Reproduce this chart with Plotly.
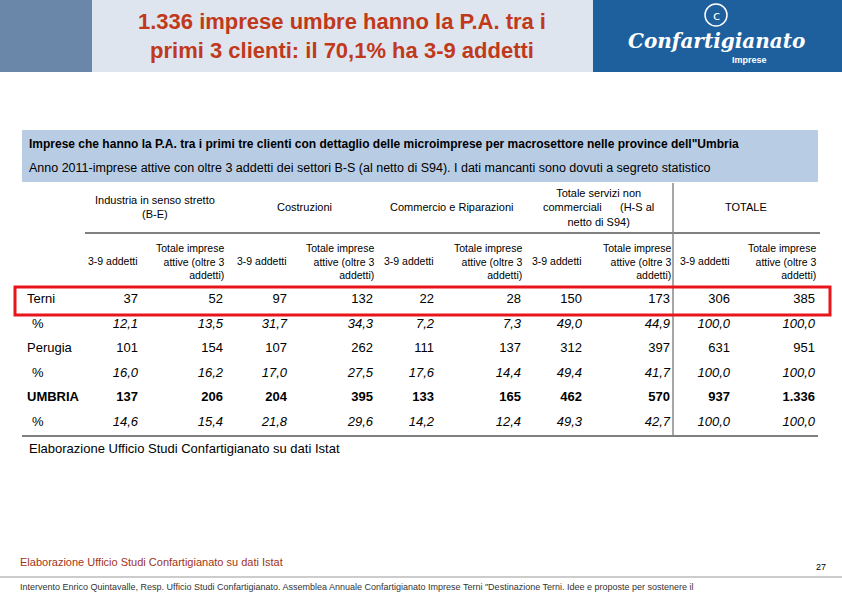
import plotly.graph_objects as go

# dati della tabella
righe = ["Terni", "%", "Perugia", "%", "UMBRIA", "%"]
valori = [
    ["37", "52", "97", "132", "22", "28", "150", "173", "306", "385"],
    ["12,1", "13,5", "31,7", "34,3", "7,2", "7,3", "49,0", "44,9", "100,0", "100,0"],
    ["101", "154", "107", "262", "111", "137", "312", "397", "631", "951"],
    ["16,0", "16,2", "17,0", "27,5", "17,6", "14,4", "49,4", "41,7", "100,0", "100,0"],
    ["137", "206", "204", "395", "133", "165", "462", "570", "937", "1.336"],
    ["14,6", "15,4", "21,8", "29,6", "14,2", "12,4", "49,3", "42,7", "100,0", "100,0"],
]
settori = ["Industria in senso stretto<br>(B-E)", "Costruzioni", "Commercio e Riparazioni",
           "Totale servizi non<br>commerciali      (H-S al<br>netto di S94)", "TOTALE"]
sottotitoli = ["3-9 addetti", "Totale imprese<br>attive (oltre 3<br>addetti)"]

col_x = [138, 223, 287, 373, 434, 521, 582, 670, 730, 815]
riga_y = [300, 325, 349, 374, 398, 423]
FONT = "Liberation Sans Narrow, Arial Narrow, Liberation Sans"

fig = go.Figure()
xs, ys, txt = [], [], []
for i, r in enumerate(valori):
    for j, v in enumerate(r):
        xs.append(col_x[j]); ys.append(riga_y[i])
        if i % 2 == 1:
            txt.append("<i>" + v + "</i>")
        elif i == 4:
            txt.append("<b>" + v + "</b>")
        else:
            txt.append(v)
fig.add_trace(go.Scatter(x=xs, y=ys, text=txt, mode="text", textposition="middle left",
                         textfont=dict(family=FONT, size=13, color="black"), hoverinfo="skip"))
lab = [("<b>" + r + "</b>") if r == "UMBRIA" else r for r in righe]
fig.add_trace(go.Scatter(x=[27, 32, 27, 32, 27, 32], y=riga_y, text=lab, mode="text",
                         textposition="middle right",
                         textfont=dict(family=FONT, size=13, color="black"), hoverinfo="skip"))

ann = []
shapes = [
    dict(type="rect", x0=0, x1=92, y0=0, y1=72, fillcolor="#6a87aa", line_width=0, layer="below"),
    dict(type="rect", x0=92, x1=593, y0=0, y1=72, fillcolor="#dfe5ee", line_width=0, layer="below"),
    dict(type="rect", x0=593, x1=842, y0=0, y1=72, fillcolor="#1e5f9e", line_width=0, layer="below"),
    dict(type="rect", x0=22, x1=818, y0=130, y1=182, fillcolor="#b8cce4", line_width=0, layer="below"),
    dict(type="line", x0=85, x1=820, y0=233, y1=233, line=dict(color="black", width=1)),
    dict(type="line", x0=673, x1=673, y0=183, y1=435, line=dict(color="#888", width=1.5)),
    dict(type="line", x0=22, x1=818, y0=436, y1=436, line=dict(color="black", width=1)),
    dict(type="rect", x0=15, x1=830, y0=287, y1=315, line=dict(color="#e8151b", width=3)),
    dict(type="line", x0=0, x1=842, y0=577, y1=577, line=dict(color="#999", width=1)),
    dict(type="circle", x0=705, x1=727, y0=4, y1=26, line=dict(color="white", width=1.5)),
]
ann.append(dict(x=342, y=36, text="<b>1.336 imprese umbre hanno la P.A. tra i<br>primi 3 clienti: il 70,1% ha 3-9 addetti</b>",
                font=dict(family="Liberation Sans", size=22, color="#c0391b")))
ann.append(dict(x=716, y=15, text="c", font=dict(family="DejaVu Sans", size=13, color="white")))
ann.append(dict(x=716, y=41, text="<b><i>Confartigianato</i></b>", font=dict(family="DejaVu Serif", size=20, color="white")))
ann.append(dict(x=749, y=60, text="<b>Imprese</b>", font=dict(family="Liberation Sans", size=9, color="white")))
ann.append(dict(x=27, y=144, xanchor="left", text="<b>Imprese che hanno la P.A. tra i primi tre clienti con dettaglio delle microimprese per macrosettore nelle province dell\"Umbria</b>",
                font=dict(family=FONT, size=12, color="black")))
ann.append(dict(x=27, y=168, xanchor="left", text="Anno 2011-imprese attive con oltre 3 addetti dei settori B-S (al netto di S94). I dati mancanti sono dovuti a segreto statistico",
                font=dict(family=FONT, size=12.5, color="black")))
for s, x in zip(settori, [155, 304, 452, 598, 746]):
    ann.append(dict(x=x, y=207, text=s, font=dict(family=FONT, size=11, color="black")))
for k in range(5):
    ann.append(dict(x=col_x[2*k] + 2, y=261, xanchor="right", text=sottotitoli[0], font=dict(family=FONT, size=10.5, color="black")))
    ann.append(dict(x=col_x[2*k+1] + 3, y=261, xanchor="right", align="right", text=sottotitoli[1],
                    font=dict(family=FONT, size=10.5, color="black")))
ann.append(dict(x=27, y=448, xanchor="left", text="Elaborazione Ufficio Studi Confartigianato su dati Istat",
                font=dict(family=FONT, size=13, color="black")))
ann.append(dict(x=18, y=562, xanchor="left", text="Elaborazione Ufficio Studi Confartigianato su dati Istat",
                font=dict(family="Liberation Sans", size=11, color="#a0341a")))
ann.append(dict(x=828, y=567, xanchor="right", text="27", font=dict(family="Liberation Sans", size=9, color="black")))
ann.append(dict(x=18, y=587, xanchor="left",
                text="Intervento Enrico Quintavalle, Resp. Ufficio Studi Confartigianato. Assemblea Annuale Confartigianato Imprese Terni \"Destinazione Terni. Idee e proposte per sostenere il",
                font=dict(family="Liberation Sans", size=9, color="#333")))
for a in ann:
    a.update(xref="x", yref="y", showarrow=False)

fig.update_layout(width=842, height=595, margin=dict(l=0, r=0, t=0, b=0), showlegend=False,
                  plot_bgcolor="white", paper_bgcolor="white", shapes=shapes, annotations=ann,
                  xaxis=dict(range=[0, 842], visible=False, fixedrange=True),
                  yaxis=dict(range=[595, 0], visible=False, fixedrange=True))
fig.write_html("out.html", config={"displayModeBar": False},
               post_script="document.body.style.margin='0';")
